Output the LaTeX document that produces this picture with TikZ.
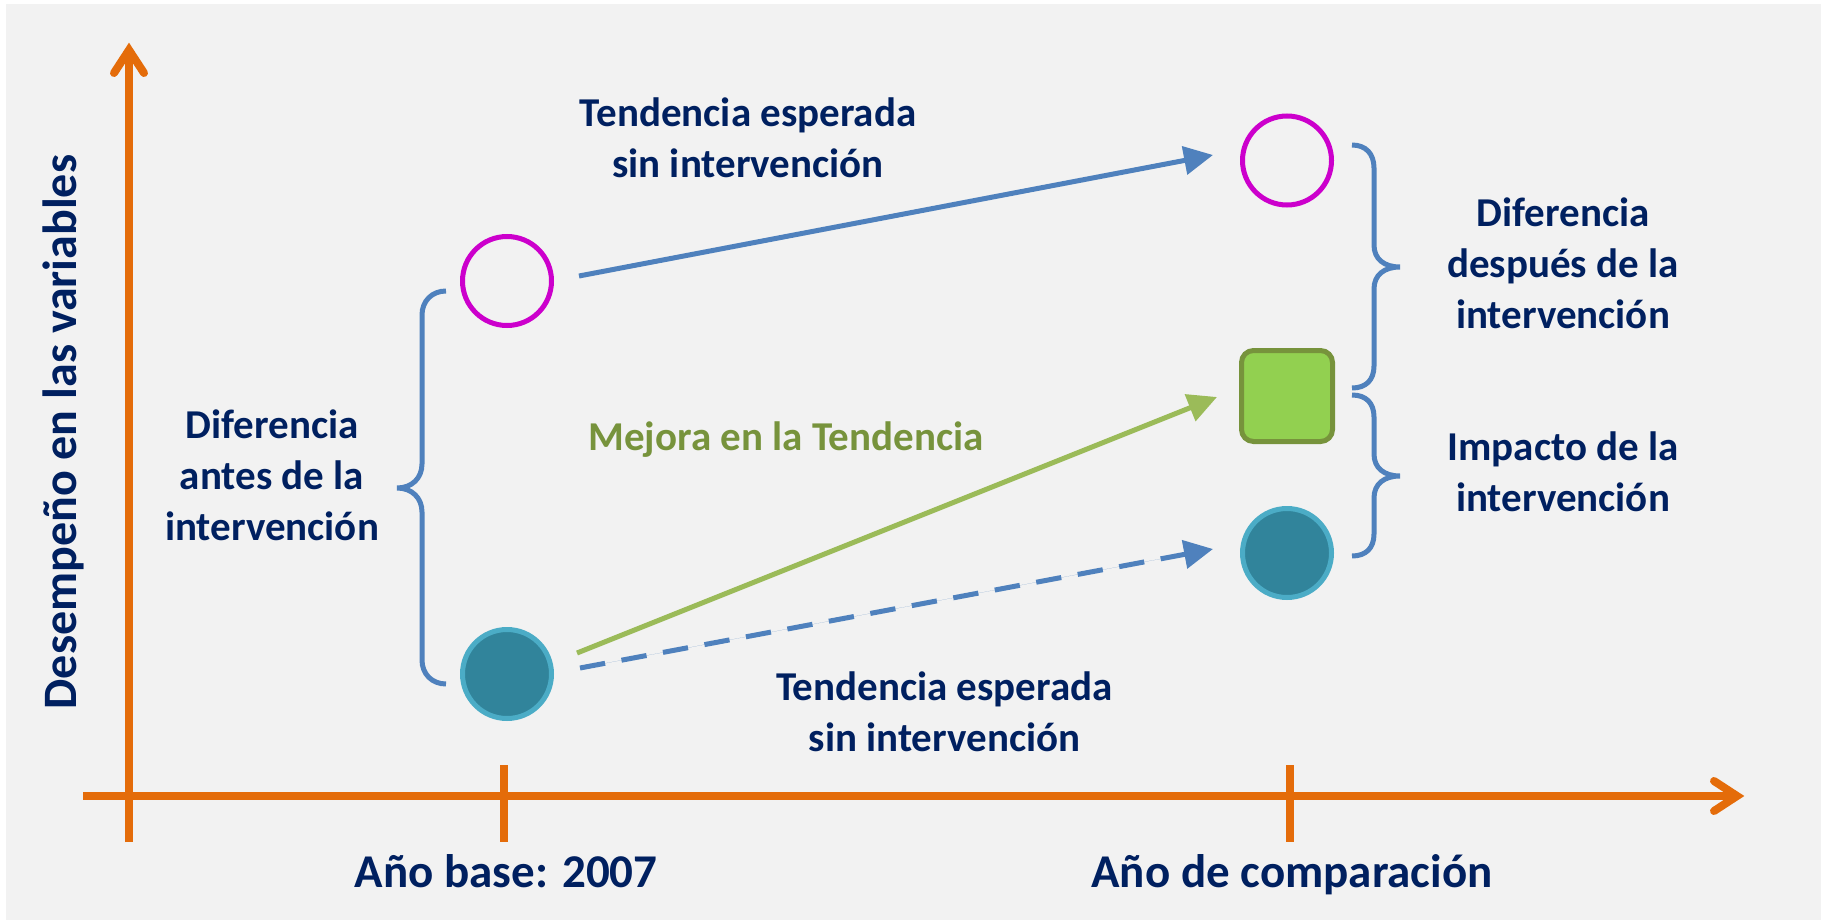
\documentclass[tikz,border=0pt]{standalone}
\usepackage{fontspec}
\setmainfont{Carlito}
\usetikzlibrary{arrows.meta,calc}
\definecolor{bgc}{HTML}{F2F2F2}
\definecolor{axisor}{HTML}{E46C0A}
\definecolor{navyt}{HTML}{002060}
\definecolor{lineblue}{HTML}{4F81BD}
\definecolor{magc}{HTML}{CC00CC}
\definecolor{tealfill}{HTML}{31849B}
\definecolor{tealdraw}{HTML}{4BACC6}
\definecolor{greenfill}{HTML}{92D050}
\definecolor{greendraw}{HTML}{77933C}
\definecolor{greenline}{HTML}{9BBB59}
\begin{document}
\begin{tikzpicture}[x=1pt,y=-1pt,
  axisline/.style={draw=axisor, line width=8pt},
  axishead/.style={draw=axisor, line width=8pt, line cap=round, line join=miter},
  trendline/.style={line width=5pt, -{Triangle[length=29pt,width=28pt]}},
  bracepath/.style={draw=lineblue, line width=5pt},
  emptydot/.style={circle, draw=magc, line width=5pt, minimum size=89pt, inner sep=0pt},
  fulldot/.style={circle, draw=tealdraw, fill=tealfill, line width=5pt, minimum size=89pt, inner sep=0pt},
  greenbox/.style={rectangle, rounded corners=12pt, draw=greendraw, fill=greenfill, line width=5pt, minimum size=91pt, inner sep=0pt},
  lbl/.style={text=navyt, font=\fontsize{41pt}{51pt}\selectfont\bfseries, align=center, anchor=base, inner sep=0pt},
  biglbl/.style={text=navyt, font=\fontsize{47pt}{56pt}\selectfont\bfseries, anchor=base, inner sep=0pt}]
\useasboundingbox (0,0) rectangle (1825,923);
\fill[white] (0,0) rectangle (1825,923);
\fill[bgc] (6,4) rectangle (1821,920);

% axes
\coordinate (xstart) at (83,796);
\coordinate (xend) at (1737,796);
\coordinate (ystart) at (129,842);
\coordinate (yend) at (129,50);
\draw[axisline] (xstart) -- (xend);
\draw[axishead] (1714,781) -- (xend) -- (1714,811);
\draw[axisline] (ystart) -- (yend);
\draw[axishead] (114,73) -- (yend) -- (144,73);
\coordinate (t1a) at (504,765);
\coordinate (t1b) at (504,842);
\coordinate (t2a) at (1290,765);
\coordinate (t2b) at (1290,842);
\draw[axisline] (t1a) -- (t1b);
\draw[axisline] (t2a) -- (t2b);

% markers
\node[emptydot] (m1) at (507,281) {};
\node[emptydot] (m2) at (1287,160.5) {};
\node[fulldot] (b1) at (507,674) {};
\node[fulldot] (b2) at (1287,553) {};
\node[greenbox] (g2) at (1287,396) {};

% trend arrows
\coordinate (a1s) at ($(m1.east)+(25,-5)$);
\coordinate (a1e) at ($(m2.west)+(-27,-5.5)$);
\coordinate (a2s) at ($(b1.east)+(23,-21)$);
\coordinate (a2e) at ($(g2.west)+(-22,1)$);
\coordinate (a3s) at ($(b1.east)+(26,-6)$);
\coordinate (a3e) at ($(b2.west)+(-27,-4)$);
\draw[trendline, draw=lineblue, fill=lineblue] (a1s) -- (a1e);
\draw[trendline, draw=greenline, fill=greenline] (a2s) -- (a2e);
\draw[trendline, draw=lineblue, fill=lineblue, dash pattern=on 25.5pt off 16.7pt] (a3s) -- (a3e);

% braces
\draw[bracepath] (446,291) .. controls (432,291) and (422,301) .. (422,315) -- (422,464)
  .. controls (422,478) and (412,488) .. (397,488)
  .. controls (412,488) and (422,498) .. (422,512) -- (422,660)
  .. controls (422,674) and (432,684) .. (446,684);
\draw[bracepath] (1352,145) .. controls (1366,145) and (1374,154) .. (1374,168) -- (1374,245)
  .. controls (1374,259) and (1384,267) .. (1400,267)
  .. controls (1384,267) and (1374,275) .. (1374,289) -- (1374,366)
  .. controls (1374,380) and (1366,388) .. (1352,388);
\draw[bracepath] (1352,395) .. controls (1366,395) and (1374,403) .. (1374,417) -- (1374,454)
  .. controls (1374,468) and (1384,476) .. (1400,476)
  .. controls (1384,476) and (1374,484) .. (1374,498) -- (1374,534)
  .. controls (1374,548) and (1366,556) .. (1352,556);

% labels (base anchor = baseline of the last line)
\node[lbl] (ttop) at (748,177) {Tendencia esperada\\sin intervención};
\node[lbl] (dleft) at (272,540) {Diferencia\\antes de la\\intervención};
\node[lbl] (dright) at (1563,328) {Diferencia\\después de la\\intervención};
\node[lbl] (impact) at (1563,511.7) {Impacto de la\\intervención};
\node[lbl, text=greendraw] (mejora) at (786,450) {Mejora en la Tendencia};
\node[lbl] (tbot) at (944.5,751.7) {Tendencia esperada\\sin intervención};
\node[biglbl] (xl1) at (506,887) {Año base: 2007};
\node[biglbl] (xl2) at (1292,887) {Año de comparación};
\node[biglbl, font=\fontsize{48pt}{56pt}\selectfont\bfseries, rotate=90] (ylab) at (76,432) {Desempeño en las variables};
\end{tikzpicture}
\end{document}
